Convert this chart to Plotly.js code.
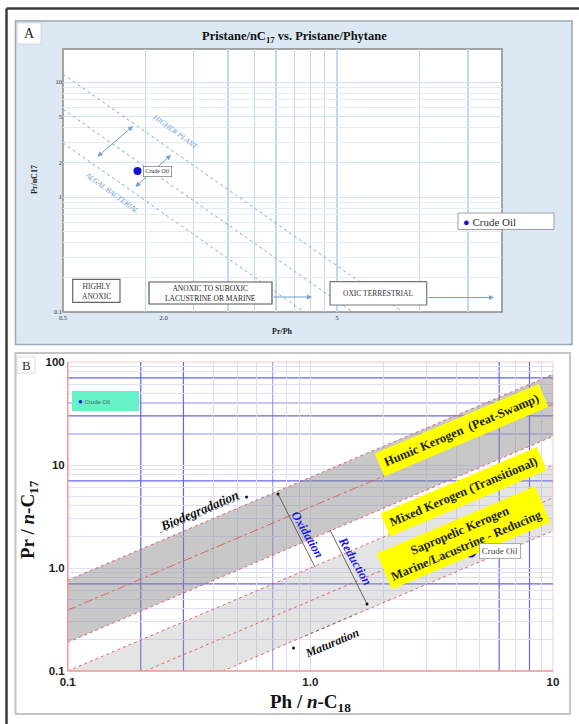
<!DOCTYPE html>
<html>
<head>
<meta charset="utf-8">
<script src="https://cdn.plot.ly/plotly-3.0.1.min.js"></script>
<style>html,body{margin:0;padding:0;background:#fff;}#chart{width:579px;height:724px;}</style>
</head>
<body>
<div id="chart"></div>
<script>
// ---------- Panel A data ----------
const aCrudePrPh = [1.87];
const aCrudePrC17 = [1.68];
const aHigherX = [1, 17.4];
const aHigherY = [11.7, 0.1];
const aMidX = [1, 11.4];
const aMidY = [5.8, 0.1];
const aAlgalX = [1, 7.6];
const aAlgalY = [2.95, 0.1];
const aXTickVals = [1, 2.33, 10];
const aXTickText = ['0.5', '2.0', '5'];
const aXGrid = [2, 3, 4, 5, 6, 7, 8, 9, 10, 20, 30];
const aYTickVals = [0.1, 1, 2, 5, 10];
const aYTickText = ['0.1', '1', '2', '5', '10'];
const aYGrid = [0.2, 0.3, 0.4, 0.5, 0.6, 0.7, 0.8, 0.9, 3, 4, 6, 7, 8, 9, 20];

// ---------- Panel B data ----------
const bCrudePhC18 = [4.57];
const bCrudePrC17 = [1.46];
const bBandX = [0.1, 10];
const bDarkUpper = [0.76, 76];
const bDarkMid = [0.39, 39];
const bDarkLower = [0.19, 19];
const bLightUpper = [0.1, 10];
const bLightMid = [0.048, 4.8];
const bLightLower = [0.023, 2.3];
const bXTickVals = [0.1, 1, 10];
const bXTickText = ['0.1', '1.0', '10'];
const bYTickVals = [0.1, 1, 10, 100];
const bYTickText = ['0.1', '1.0', '10', '100'];
const bXGridStrong = [0.2, 0.3, 6, 8];
const bXGridMedium = [0.7];
const bXGridLight = [0.4, 0.5, 0.6, 0.8, 0.9, 1, 2, 3, 4, 5, 7, 9];
const bYGridStrong = [0.7, 7, 30, 70];
const bYGridMedium = [20, 40];
const bYGridLight = [0.2, 0.3, 0.4, 0.5, 0.6, 0.8, 0.9, 1, 2, 3, 4, 5, 6, 8, 9, 10, 50, 60, 80, 90];

// ---------- helpers (pixel -> paper) ----------
const W = 579, H = 724;
const px = x => x / W;
const py = y => 1 - y / H;
const SERIF = 'Liberation Serif, Times New Roman, serif';
const SANS = 'Liberation Sans, Arial, sans-serif';

const redDot = {color: 'rgba(225,80,80,0.85)', width: 1, dash: 'dot'};

const traces = [
  // Panel A reference lines
  {x: aHigherX, y: aHigherY, xaxis: 'x', yaxis: 'y', mode: 'lines', line: {color: '#7fa9dc', width: 1, dash: 'dot'}, showlegend: false, hoverinfo: 'skip'},
  {x: aMidX, y: aMidY, xaxis: 'x', yaxis: 'y', mode: 'lines', line: {color: '#7fa9dc', width: 1, dash: 'dot'}, showlegend: false, hoverinfo: 'skip'},
  {x: aAlgalX, y: aAlgalY, xaxis: 'x', yaxis: 'y', mode: 'lines', line: {color: '#7fa9dc', width: 1, dash: 'dot'}, showlegend: false, hoverinfo: 'skip'},
  {x: aCrudePrPh, y: aCrudePrC17, xaxis: 'x', yaxis: 'y', mode: 'markers', name: 'Crude Oil', marker: {color: '#1414d8', size: 8}, showlegend: false},

  // Panel B bands
  {x: bBandX, y: bDarkLower, xaxis: 'x2', yaxis: 'y2', mode: 'lines', line: redDot, showlegend: false, hoverinfo: 'skip'},
  {x: bBandX, y: bDarkUpper, xaxis: 'x2', yaxis: 'y2', mode: 'lines', line: redDot, fill: 'tonexty', fillcolor: 'rgba(140,140,140,0.48)', showlegend: false, hoverinfo: 'skip'},
  {x: bBandX, y: bDarkMid, xaxis: 'x2', yaxis: 'y2', mode: 'lines', line: {color: 'rgba(225,80,80,0.85)', width: 1, dash: 'dashdot'}, showlegend: false, hoverinfo: 'skip'},
  {x: bBandX, y: bLightLower, xaxis: 'x2', yaxis: 'y2', mode: 'lines', line: redDot, showlegend: false, hoverinfo: 'skip'},
  {x: bBandX, y: bLightUpper, xaxis: 'x2', yaxis: 'y2', mode: 'lines', line: redDot, fill: 'tonexty', fillcolor: 'rgba(170,170,170,0.32)', showlegend: false, hoverinfo: 'skip'},
  {x: bBandX, y: bLightMid, xaxis: 'x2', yaxis: 'y2', mode: 'lines', line: redDot, showlegend: false, hoverinfo: 'skip'},
  {x: bCrudePhC18, y: bCrudePrC17, xaxis: 'x2', yaxis: 'y2', mode: 'markers', name: 'Crude Oil', marker: {color: '#1414e6', size: 13}, showlegend: false}
];

// grid lines of panel B at emphasised values (axis-referenced shapes)
function vGrid(v, color, width) {
  return {type: 'line', xref: 'x2', yref: 'y2 domain', x0: v, x1: v, y0: 0, y1: 1, line: {color: color, width: width}, layer: 'below'};
}
function hGrid(v, color, width) {
  return {type: 'line', xref: 'x2 domain', yref: 'y2', x0: 0, x1: 1, y0: v, y1: v, line: {color: color, width: width}, layer: 'below'};
}

const shapes = [
  // outer frame
  {type: 'line', xref: 'paper', yref: 'paper', x0: px(6.5), y0: py(8.5), x1: px(6.5), y1: 0, line: {color: '#3a3a3a', width: 2.5}, layer: 'below'},
  {type: 'line', xref: 'paper', yref: 'paper', x0: px(6.5), y0: py(8.5), x1: 1, y1: py(8.5), line: {color: '#3a3a3a', width: 2.5}, layer: 'below'},
  // Panel A background
  {type: 'rect', xref: 'paper', yref: 'paper', x0: px(15.5), y0: py(21), x1: px(572), y1: py(344.5), fillcolor: '#dce9f5', line: {color: '#98a6b6', width: 1.5}, layer: 'below'},
  {type: 'rect', xref: 'paper', yref: 'paper', x0: px(17), y0: py(23), x1: px(41), y1: py(44), fillcolor: '#ffffff', line: {color: '#c8d0d8', width: 0.8}, layer: 'below'},
  {type: 'rect', xref: 'paper', yref: 'paper', x0: px(63), y0: py(49), x1: px(502), y1: py(312), fillcolor: '#ffffff', line: {color: '#8a8a8a', width: 1.5}, layer: 'below'},
  // Panel B background
  {type: 'rect', xref: 'paper', yref: 'paper', x0: px(15.5), y0: py(353), x1: px(570), y1: py(714), fillcolor: '#ffffff', line: {color: '#c4c4c4', width: 2}, layer: 'below'},
  {type: 'rect', xref: 'paper', yref: 'paper', x0: px(17), y0: py(357), x1: px(35), y1: py(373), fillcolor: '#ffffff', line: {color: '#d0d0d0', width: 0.8}, layer: 'below'}
]
.concat(bXGridStrong.map(v => vGrid(v, '#6565ea', 1.2)))
.concat(bXGridMedium.map(v => vGrid(v, '#8e8ef0', 1)))
.concat(bYGridStrong.map(v => hGrid(v, '#6565ea', 1.2)))
.concat(bYGridMedium.map(v => hGrid(v, '#8e8ef0', 1)))
.concat([
  // Panel A region boxes
  {type: 'rect', xref: 'paper', yref: 'paper', x0: px(72.7), y0: py(279.3), x1: px(120), y1: py(302.3), fillcolor: '#ffffff', line: {color: '#666', width: 1.2}},
  {type: 'rect', xref: 'paper', yref: 'paper', x0: px(149), y0: py(282), x1: px(272), y1: py(304), fillcolor: '#ffffff', line: {color: '#555', width: 1.2}},
  {type: 'rect', xref: 'paper', yref: 'paper', x0: px(330), y0: py(281.7), x1: px(426.7), y1: py(305), fillcolor: '#ffffff', line: {color: '#777', width: 1.2}},
  // Panel A legend box
  {type: 'rect', xref: 'paper', yref: 'paper', x0: px(458), y0: py(213), x1: px(554), y1: py(229.5), fillcolor: '#ffffff', line: {color: '#a0a0a0', width: 1}},
  // Panel B plot border
  {type: 'rect', xref: 'paper', yref: 'paper', x0: px(67.7), y0: py(362), x1: px(553), y1: py(671), line: {color: 'rgba(240,140,140,0.45)', width: 1}},
  {type: 'line', xref: 'paper', yref: 'paper', x0: px(67.7), y0: py(362), x1: px(67.7), y1: py(671), line: {color: '#f29a9a', width: 1.5}},
  {type: 'line', xref: 'paper', yref: 'paper', x0: px(67.7), y0: py(671), x1: px(553), y1: py(671), line: {color: '#f29a9a', width: 1.5}},
  // Panel B legend
  {type: 'rect', xref: 'paper', yref: 'paper', x0: px(72), y0: py(391), x1: px(139), y1: py(411), fillcolor: '#66f2c8', line: {width: 0}},
  // Oxidation / Reduction guide lines
  {type: 'line', xref: 'paper', yref: 'paper', x0: px(278), y0: py(494), x1: px(315), y1: py(567), line: {color: '#444', width: 0.8}},
  {type: 'line', xref: 'paper', yref: 'paper', x0: px(330), y0: py(530), x1: px(367), y1: py(604), line: {color: '#444', width: 0.8}},
  {type: 'circle', xref: 'paper', yref: 'paper', x0: px(276.5), y0: py(492.5), x1: px(279.5), y1: py(495.5), fillcolor: '#111', line: {width: 0}},
  {type: 'circle', xref: 'paper', yref: 'paper', x0: px(365.5), y0: py(602.5), x1: px(368.5), y1: py(605.5), fillcolor: '#111', line: {width: 0}},
  // Biodegradation underline + dot
  {type: 'line', xref: 'paper', yref: 'paper', x0: px(160), y0: py(533), x1: px(240), y1: py(499), line: {color: '#777', width: 1, dash: 'dot'}},
  {type: 'circle', xref: 'paper', yref: 'paper', x0: px(245), y0: py(495.5), x1: px(248), y1: py(498.5), fillcolor: '#111', line: {width: 0}},
  // Maturation overline + dot
  {type: 'line', xref: 'paper', yref: 'paper', x0: px(305), y0: py(636), x1: px(356), y1: py(614), line: {color: '#777', width: 1, dash: 'dot'}},
  {type: 'circle', xref: 'paper', yref: 'paper', x0: px(292), y0: py(646.5), x1: px(295), y1: py(649.5), fillcolor: '#111', line: {width: 0}}
]);

const arrowBlue = '#6f9fd8';
function arrow(x1, y1, x0, y0, both) {
  return {xref: 'paper', yref: 'paper', x: px(x1), y: py(y1), ax: x0 - x1, ay: y0 - y1,
    text: '', showarrow: true, arrowhead: 2, startarrowhead: 2, arrowside: both ? 'end+start' : 'end',
    arrowsize: 1, arrowwidth: 1, arrowcolor: arrowBlue, standoff: 0, startstandoff: 0};
}
function txt(x, y, text, font, extra) {
  return Object.assign({xref: 'paper', yref: 'paper', x: px(x), y: py(y), text: text, showarrow: false,
    xanchor: 'center', yanchor: 'middle', font: font}, extra || {});
}

const annotations = [
  txt(294, 37, '<b>Pristane/nC<sub>17</sub> vs. Pristane/Phytane</b>', {family: SERIF, size: 12.5, color: '#111'}),
  txt(29, 33.5, 'A', {family: SERIF, size: 14, color: '#222'}),
  txt(26, 365, 'B', {family: SERIF, size: 13, color: '#333'}),
  txt(282, 331, '<b>Pr/Ph</b>', {family: SERIF, size: 8, color: '#222'}),
  txt(34, 180, '<b>Pr/nC17</b>', {family: SERIF, size: 8, color: '#222'}, {textangle: -90}),
  txt(175, 132, '<i>HIGHER PLANT</i>', {family: SERIF, size: 7.5, color: '#6f9fd8'}, {textangle: 36}),
  txt(112, 192, '<i>ALGAL BACTERIAL</i>', {family: SERIF, size: 7.5, color: '#6f9fd8'}, {textangle: 36}),
  txt(96.3, 291, 'HIGHLY<br>ANOXIC', {family: SERIF, size: 7.5, color: '#333'}),
  txt(210.5, 293, 'ANOXIC TO SUBOXIC<br>LACUSTRINE OR MARINE', {family: SERIF, size: 7.5, color: '#222'}),
  txt(378.3, 293.5, 'OXIC TERRESTRIAL', {family: SERIF, size: 7.5, color: '#333'}),
  arrow(133, 126, 96, 158, true),
  arrow(171, 155, 134, 188, true),
  arrow(312, 297, 272, 297, false),
  arrow(494, 297.5, 427, 297.5, false),
  txt(461, 221.5, '<span style="color:#1414d8">●</span> Crude Oil', {family: SERIF, size: 11, color: '#333'}, {xanchor: 'left'}),
  // point label A
  {xref: 'x', yref: 'y', x: Math.log10(aCrudePrPh[0]), y: Math.log10(aCrudePrC17[0]), text: 'Crude Oil', showarrow: false,
   xanchor: 'left', yanchor: 'middle', xshift: 6, font: {family: SERIF, size: 6, color: '#333'}, bgcolor: '#fff', bordercolor: '#888', borderwidth: 0.8, borderpad: 1.5},

  // Panel B
  txt(29, 520, '<b>Pr / <i>n</i>-C<sub>17</sub></b>', {family: SERIF, size: 19, color: '#111'}, {textangle: -90}),
  txt(310, 703, '<b>Ph / <i>n</i>-C<sub>18</sub></b>', {family: SERIF, size: 19, color: '#111'}),
  txt(76, 401, '<span style="color:#1414d8;font-size:8px">●</span> Crude Oil', {family: SANS, size: 6, color: '#555'}, {xanchor: 'left'}),
  txt(462, 430, '<b>Humic Kerogen\u00a0 (Peat-Swamp)</b>', {family: SERIF, size: 12.5, color: '#222'}, {textangle: -23, bgcolor: '#ffff00', borderpad: 5}),
  txt(463, 492, '<b>Mixed Kerogen (Transitional)</b>', {family: SERIF, size: 12.5, color: '#222'}, {textangle: -23, bgcolor: '#ffff00', borderpad: 5}),
  txt(463, 538, '<b>Sapropelic Kerogen<br>Marine/Lacustrine - Reducing</b>', {family: SERIF, size: 12.5, color: '#222'}, {textangle: -23, bgcolor: '#ffff00', borderpad: 4}),
  txt(307, 534, '<b><i>Oxidation</i></b>', {family: SERIF, size: 12.5, color: '#1a1af0'}, {textangle: 60}),
  txt(355, 561, '<b><i>Reduction</i></b>', {family: SERIF, size: 12.5, color: '#1a1af0'}, {textangle: 60}),
  txt(199, 510, '<b><i>Biodegradation</i></b>', {family: SERIF, size: 13, color: '#111'}, {textangle: -23}),
  txt(332, 643, '<b><i>Maturation</i></b>', {family: SERIF, size: 12, color: '#111'}, {textangle: -23}),
  {xref: 'x2', yref: 'y2', x: Math.log10(bCrudePhC18[0]), y: Math.log10(bCrudePrC17[0]), text: 'Crude Oil', showarrow: false,
   xanchor: 'left', yanchor: 'middle', xshift: 9, font: {family: SERIF, size: 9, color: '#444'}, bgcolor: '#fff', bordercolor: '#999', borderwidth: 0.8, borderpad: 2}
];

const layout = {
  width: W, height: H,
  margin: {l: 0, r: 0, t: 0, b: 0},
  paper_bgcolor: '#ffffff',
  plot_bgcolor: 'rgba(0,0,0,0)',
  showlegend: false,
  xaxis: {
    domain: [px(63), px(502)], anchor: 'y', type: 'log', range: [0, Math.log10(40)],
    tickmode: 'array', tickvals: aXTickVals, ticktext: aXTickText,
    showgrid: false, zeroline: false, showline: false, ticks: '',
    tickfont: {family: SERIF, size: 6.5, color: '#333'},
    minor: {tickmode: 'array', tickvals: aXGrid, showgrid: true, gridcolor: '#c3d8ee', gridwidth: 1.5, ticks: ''},
    fixedrange: true
  },
  yaxis: {
    domain: [py(312), py(49)], anchor: 'x', type: 'log', range: [-1, 1.287],
    tickmode: 'array', tickvals: aYTickVals, ticktext: aYTickText,
    showgrid: true, gridcolor: '#d3e3f3', gridwidth: 1, zeroline: false, showline: false, ticks: '',
    tickfont: {family: SERIF, size: 6.5, color: '#333'},
    minor: {tickmode: 'array', tickvals: aYGrid, showgrid: true, gridcolor: '#e0ebf6', gridwidth: 1, ticks: ''},
    fixedrange: true
  },
  xaxis2: {
    domain: [px(67.7), px(553)], anchor: 'y2', type: 'log', range: [-1, 1],
    tickmode: 'array', tickvals: bXTickVals, ticktext: bXTickText,
    showgrid: false, zeroline: false, showline: false, ticks: '', ticklabelstandoff: 2,
    tickfont: {family: SANS, size: 11.5, color: '#222', weight: 'bold'},
    minor: {tickmode: 'array', tickvals: bXGridLight, showgrid: true, gridcolor: '#dcdcfb', gridwidth: 1, ticks: ''},
    fixedrange: true
  },
  yaxis2: {
    domain: [py(671), py(362)], anchor: 'x2', type: 'log', range: [-1, 2],
    tickmode: 'array', tickvals: bYTickVals, ticktext: bYTickText,
    showgrid: false, zeroline: false, showline: false, ticks: '', ticklabelstandoff: 2,
    tickfont: {family: SANS, size: 11.5, color: '#222', weight: 'bold'},
    minor: {tickmode: 'array', tickvals: bYGridLight, showgrid: true, gridcolor: '#dfdffb', gridwidth: 1, ticks: ''},
    fixedrange: true
  },
  shapes: shapes,
  annotations: annotations
};

Plotly.newPlot('chart', traces, layout, {staticPlot: true, displayModeBar: false});
</script>
</body>
</html>
